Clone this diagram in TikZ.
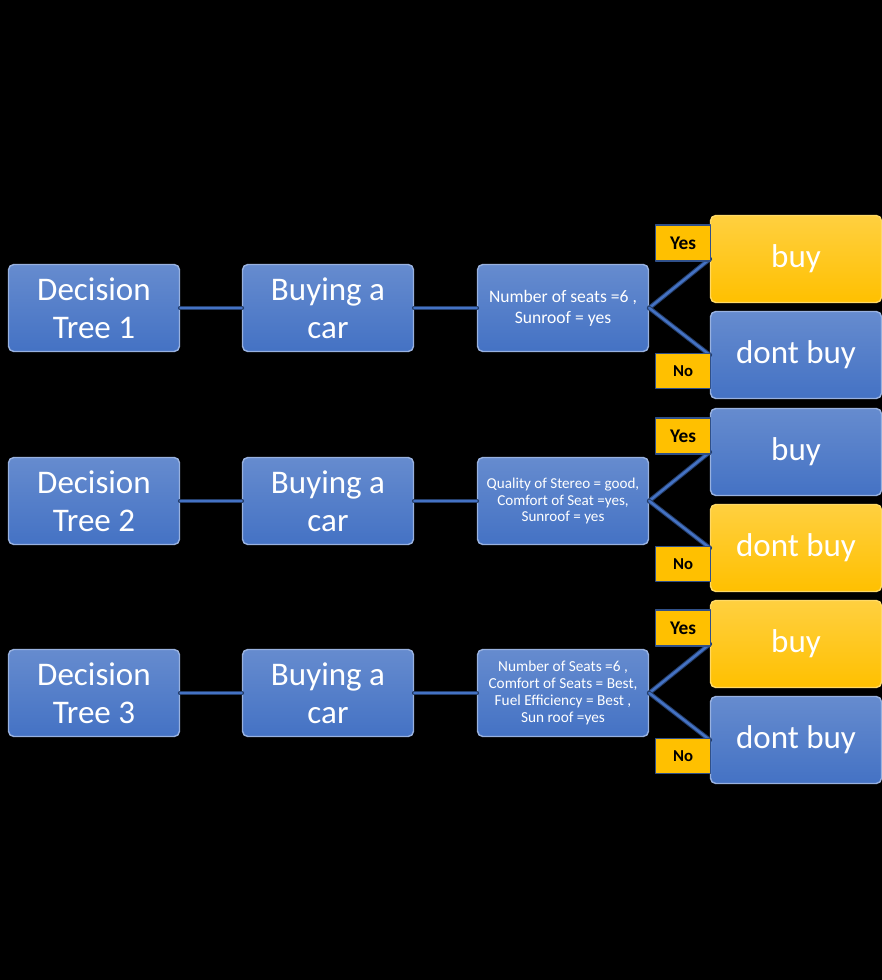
\documentclass[tikz,border=0pt]{standalone}
\usepackage{fontspec}
\setmainfont{Carlito}
\usetikzlibrary{positioning}

\definecolor{boxblue}{RGB}{68,114,196}
\definecolor{boxyellow}{RGB}{255,192,0}

\begin{document}
\begin{tikzpicture}[x=0.02cm, y=-0.02cm, line join=round, line cap=round,
	bbox/.style={rectangle, rounded corners=3pt, draw=boxblue!55!white, line width=0.8pt,
		top color=boxblue!82!white, bottom color=boxblue, text=white, align=center,
		minimum width=3.42cm, minimum height=1.74cm, inner sep=1pt,
		font=\fontsize{18.8}{21.5}\selectfont},
	ybox/.style={bbox, draw=boxyellow!60!white, top color=boxyellow!75!white, bottom color=boxyellow},
	tag/.style={rectangle, fill=boxyellow, draw=boxblue!70!black, line width=0.6pt,
		minimum width=1.1cm, minimum height=0.72cm, inner sep=0pt,
		font=\bfseries\fontsize{11}{13}\selectfont},
	link/.style={draw=boxblue!55!black, double=boxblue, double distance=1.4pt, line width=0.6pt}]

	% Nền đen
	\fill[black] (0,0) rectangle (882,980);
	\useasboundingbox (0,0) rectangle (882,980);

	% Ba cây quyết định
	\foreach \r/\y/\bc/\dc/\fs/\bs/\txt in {
		1/308/ybox/bbox/10/12/{Number of seats =6 ,\\ Sunroof = yes},
		2/501/bbox/ybox/8.6/9.6/{Quality of Stereo = good,\\ Comfort of Seat =yes,\\ Sunroof = yes},
		3/693/ybox/bbox/8.7/9.6/{Number of Seats =6 ,\\ Comfort of Seats = Best,\\ Fuel Efficiency = Best ,\\ Sun roof =yes}} {
		\node[bbox] (dt\r) at (94,\y) {Decision\\ Tree \r};
		\node[bbox] (car\r) at (328,\y) {Buying a\\ car};
		\node[bbox, font=\fontsize{\fs}{\bs}\selectfont] (cond\r) at (563,\y) {\txt};
		\node[\bc] (buy\r) at (796,\y-49) {buy};
		\node[\dc] (nobuy\r) at (796,\y+47) {dont buy};

		% Đường nối
		\draw[link] (dt\r) -- (car\r);
		\draw[link] (car\r) -- (cond\r);
		\draw[link] (cond\r.east) -- (buy\r.west);
		\draw[link] (cond\r.east) -- (nobuy\r.west);

		% Nhãn Yes / No
		\node[tag] (yes\r) at (683,\y-65) {Yes};
		\node[tag, minimum height=0.7cm, font=\bfseries\fontsize{9.5}{11}\selectfont] (no\r) at (683,\y+63) {No};
	}
\end{tikzpicture}
\end{document}
